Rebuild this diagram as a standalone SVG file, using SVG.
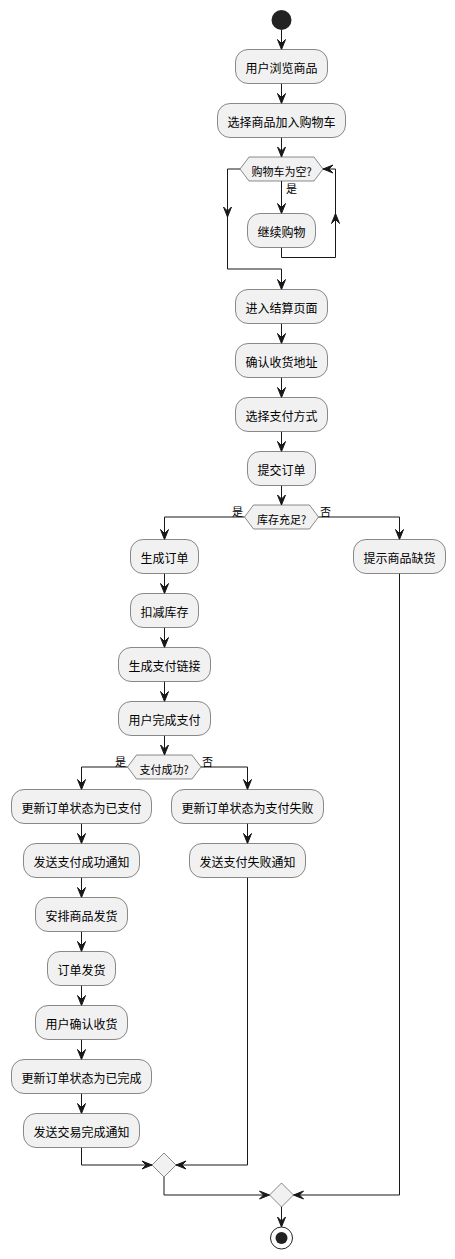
<svg xmlns="http://www.w3.org/2000/svg" xmlns:xlink="http://www.w3.org/1999/xlink" width="455" height="1259" viewBox="0 0 455 1259">
<style>
.box{fill:#F1F1F1;stroke:#181818;stroke-width:0.5}
.t{font-family:"Noto Sans CJK SC","Noto Sans",sans-serif;font-size:12px;fill:#000;text-anchor:middle;dominant-baseline:central}
.h{font-family:"Noto Sans CJK SC","Noto Sans",sans-serif;font-size:11px;fill:#000;text-anchor:middle;dominant-baseline:central}
.lbl{font-family:"Noto Sans CJK SC","Noto Sans",sans-serif;font-size:11px;fill:#000}
.ln{fill:none;stroke:#181818;stroke-width:1}
.ah{fill:#181818;stroke:#181818;stroke-width:1}
</style>
<defs>
<path id="ah" class="ah" d="M-4,-10 L0,0 L4,-10 L0,-6 Z"/>
</defs>
<rect width="455" height="1259" fill="#FFFFFF"/>
<g id="connectors">
<path class="ln" d="M281.5,30 V49.5"/><use xlink:href="#ah" transform="translate(281.5,49.5)"/>
<path class="ln" d="M281.5,83.5 V103.5"/><use xlink:href="#ah" transform="translate(281.5,103.5)"/>
<path class="ln" d="M281.5,137.5 V157"/><use xlink:href="#ah" transform="translate(281.5,157)"/>
<path class="ln" d="M281.5,181 V213.5"/><use xlink:href="#ah" transform="translate(281.5,213.5)"/>
<path class="ln" d="M281.5,247.5 V257.5 H335.5 V169 H323"/><use xlink:href="#ah" transform="translate(335.5,213.5) rotate(180)"/><use xlink:href="#ah" transform="translate(323,169) rotate(90)"/>
<path class="ln" d="M240,169 H227.5 V269 H281.5 V289.5"/><use xlink:href="#ah" transform="translate(227.5,217)"/><use xlink:href="#ah" transform="translate(281.5,289.5)"/>
<path class="ln" d="M281.5,323.5 V343.5"/><use xlink:href="#ah" transform="translate(281.5,343.5)"/>
<path class="ln" d="M281.5,377.5 V397.5"/><use xlink:href="#ah" transform="translate(281.5,397.5)"/>
<path class="ln" d="M281.5,431.5 V451.5"/><use xlink:href="#ah" transform="translate(281.5,451.5)"/>
<path class="ln" d="M281.5,485.5 V505"/><use xlink:href="#ah" transform="translate(281.5,505)"/>
<path class="ln" d="M244.5,517 H164.5 V539.5"/><use xlink:href="#ah" transform="translate(164.5,539.5)"/>
<path class="ln" d="M318.5,517 H399.5 V539.5"/><use xlink:href="#ah" transform="translate(399.5,539.5)"/>
<path class="ln" d="M164.5,573.5 V593.5"/><use xlink:href="#ah" transform="translate(164.5,593.5)"/>
<path class="ln" d="M164.5,627.5 V647.5"/><use xlink:href="#ah" transform="translate(164.5,647.5)"/>
<path class="ln" d="M164.5,681.5 V701.5"/><use xlink:href="#ah" transform="translate(164.5,701.5)"/>
<path class="ln" d="M164.5,735.5 V755"/><use xlink:href="#ah" transform="translate(164.5,755)"/>
<path class="ln" d="M127.5,767 H81.5 V789.5"/><use xlink:href="#ah" transform="translate(81.5,789.5)"/>
<path class="ln" d="M201,767 H247.5 V789.5"/><use xlink:href="#ah" transform="translate(247.5,789.5)"/>
<path class="ln" d="M81.5,823.5 V843.5"/><use xlink:href="#ah" transform="translate(81.5,843.5)"/>
<path class="ln" d="M247.5,823.5 V843.5"/><use xlink:href="#ah" transform="translate(247.5,843.5)"/>
<path class="ln" d="M81.5,877.5 V897.5"/><use xlink:href="#ah" transform="translate(81.5,897.5)"/>
<path class="ln" d="M81.5,931.5 V951.5"/><use xlink:href="#ah" transform="translate(81.5,951.5)"/>
<path class="ln" d="M81.5,985.5 V1005.5"/><use xlink:href="#ah" transform="translate(81.5,1005.5)"/>
<path class="ln" d="M81.5,1039.5 V1059.5"/><use xlink:href="#ah" transform="translate(81.5,1059.5)"/>
<path class="ln" d="M81.5,1093.5 V1113.5"/><use xlink:href="#ah" transform="translate(81.5,1113.5)"/>
<path class="ln" d="M81.5,1147.5 V1165 H152"/><use xlink:href="#ah" transform="translate(152,1165) rotate(-90)"/>
<path class="ln" d="M247.5,877.5 V1165 H176"/><use xlink:href="#ah" transform="translate(176,1165) rotate(90)"/>
<path class="ln" d="M164,1177 V1195 H269.5"/><use xlink:href="#ah" transform="translate(269.5,1195) rotate(-90)"/>
<path class="ln" d="M399.5,573.5 V1195 H293.5"/><use xlink:href="#ah" transform="translate(293.5,1195) rotate(90)"/>
<path class="ln" d="M281.5,1207 V1227"/><use xlink:href="#ah" transform="translate(281.5,1227)"/>
<text class="lbl" x="286" y="193">是</text>
<text class="lbl" x="243" y="516" text-anchor="end">是</text>
<text class="lbl" x="320" y="516">否</text>
<text class="lbl" x="126" y="766" text-anchor="end">是</text>
<text class="lbl" x="202" y="766">否</text>
</g>
<g id="start"><circle cx="281.5" cy="20" r="10" fill="#222222"/></g>
<g id="n1"><rect class="box" x="235.5" y="49.5" width="92" height="34" rx="12.5"/><text class="t" x="281.5" y="67.5">用户浏览商品</text></g>
<g id="n2"><rect class="box" x="217.5" y="103.5" width="128" height="34" rx="12.5"/><text class="t" x="281.5" y="121.5">选择商品加入购物车</text></g>
<g id="d1"><polygon class="box" points="240,169 249,157 314,157 323,169 314,181 249,181"/><text class="h" x="281.5" y="170.5">购物车为空?</text></g>
<g id="n3"><rect class="box" x="247.5" y="213.5" width="68" height="34" rx="12.5"/><text class="t" x="281.5" y="231.5">继续购物</text></g>
<g id="n4"><rect class="box" x="235.5" y="289.5" width="92" height="34" rx="12.5"/><text class="t" x="281.5" y="307.5">进入结算页面</text></g>
<g id="n5"><rect class="box" x="235.5" y="343.5" width="92" height="34" rx="12.5"/><text class="t" x="281.5" y="361.5">确认收货地址</text></g>
<g id="n6"><rect class="box" x="235.5" y="397.5" width="92" height="34" rx="12.5"/><text class="t" x="281.5" y="415.5">选择支付方式</text></g>
<g id="n7"><rect class="box" x="247.5" y="451.5" width="68" height="34" rx="12.5"/><text class="t" x="281.5" y="469.5">提交订单</text></g>
<g id="d2"><polygon class="box" points="244.5,517 253.5,505 309.5,505 318.5,517 309.5,529 253.5,529"/><text class="h" x="281.5" y="518.5">库存充足?</text></g>
<g id="n8"><rect class="box" x="130.5" y="539.5" width="68" height="34" rx="12.5"/><text class="t" x="164.5" y="557.5">生成订单</text></g>
<g id="n9"><rect class="box" x="353.5" y="539.5" width="92" height="34" rx="12.5"/><text class="t" x="399.5" y="557.5">提示商品缺货</text></g>
<g id="n10"><rect class="box" x="130.5" y="593.5" width="68" height="34" rx="12.5"/><text class="t" x="164.5" y="611.5">扣减库存</text></g>
<g id="n11"><rect class="box" x="118.5" y="647.5" width="92" height="34" rx="12.5"/><text class="t" x="164.5" y="665.5">生成支付链接</text></g>
<g id="n12"><rect class="box" x="118.5" y="701.5" width="92" height="34" rx="12.5"/><text class="t" x="164.5" y="719.5">用户完成支付</text></g>
<g id="d3"><polygon class="box" points="127.5,767 136.5,755 192,755 201,767 192,779 136.5,779"/><text class="h" x="164.2" y="768.5">支付成功?</text></g>
<g id="n13"><rect class="box" x="11.5" y="789.5" width="140" height="34" rx="12.5"/><text class="t" x="81.5" y="807.5">更新订单状态为已支付</text></g>
<g id="n14"><rect class="box" x="171.5" y="789.5" width="152" height="34" rx="12.5"/><text class="t" x="247.5" y="807.5">更新订单状态为支付失败</text></g>
<g id="n15"><rect class="box" x="23.5" y="843.5" width="116" height="34" rx="12.5"/><text class="t" x="81.5" y="861.5">发送支付成功通知</text></g>
<g id="n16"><rect class="box" x="189.5" y="843.5" width="116" height="34" rx="12.5"/><text class="t" x="247.5" y="861.5">发送支付失败通知</text></g>
<g id="n17"><rect class="box" x="35.5" y="897.5" width="92" height="34" rx="12.5"/><text class="t" x="81.5" y="915.5">安排商品发货</text></g>
<g id="n18"><rect class="box" x="47.5" y="951.5" width="68" height="34" rx="12.5"/><text class="t" x="81.5" y="969.5">订单发货</text></g>
<g id="n19"><rect class="box" x="35.5" y="1005.5" width="92" height="34" rx="12.5"/><text class="t" x="81.5" y="1023.5">用户确认收货</text></g>
<g id="n20"><rect class="box" x="11.5" y="1059.5" width="140" height="34" rx="12.5"/><text class="t" x="81.5" y="1077.5">更新订单状态为已完成</text></g>
<g id="n21"><rect class="box" x="23.5" y="1113.5" width="116" height="34" rx="12.5"/><text class="t" x="81.5" y="1131.5">发送交易完成通知</text></g>
<g id="m1"><polygon class="box" points="164,1153 176,1165 164,1177 152,1165"/></g>
<g id="m2"><polygon class="box" points="281.5,1183 293.5,1195 281.5,1207 269.5,1195"/></g>
<g id="end"><circle cx="281.5" cy="1238" r="11" fill="none" stroke="#222222" stroke-width="1"/><circle cx="281.5" cy="1238" r="6" fill="#222222"/></g>
</svg>
